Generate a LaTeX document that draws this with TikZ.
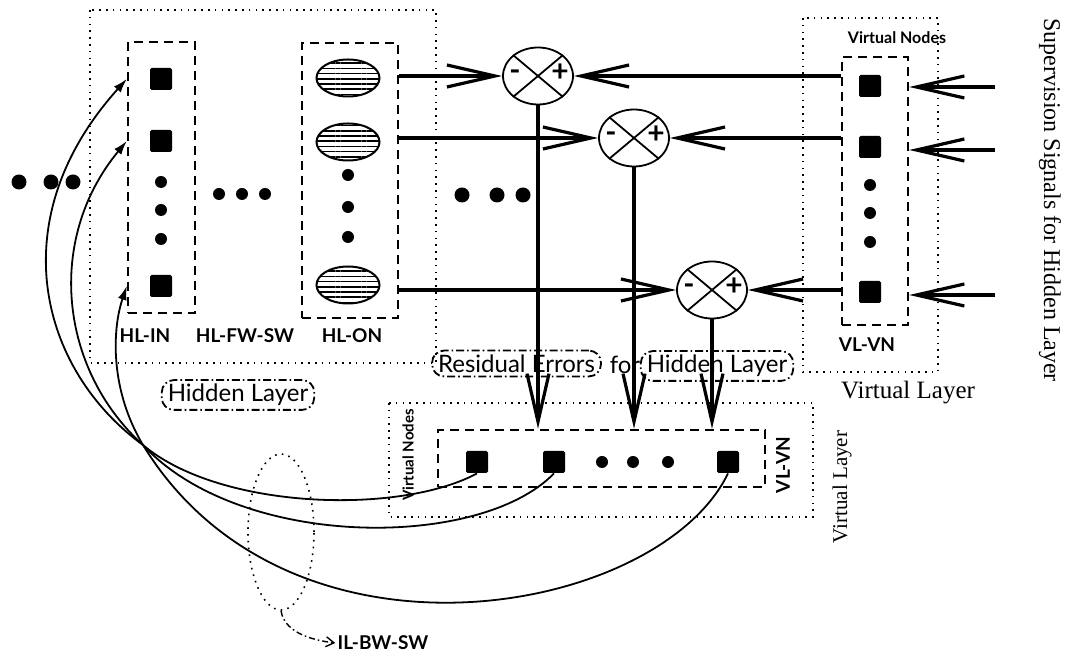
\documentclass[tikz,border=0pt]{standalone}
\usepackage{fontspec}
\setmainfont{Liberation Serif}
\newfontfamily\labelfont{Lato}
\usepackage{tikz}
\usetikzlibrary{arrows.meta,positioning,shapes.geometric,patterns.meta,calc}

\begin{document}
\begin{tikzpicture}[
  x=0.5pt, y=-0.5pt,
  nodebox/.style={draw, line width=1.2pt, dash pattern=on 4.5pt off 3pt},
  layerframe/.style={draw, line width=0.8pt, dash pattern=on 0.8pt off 2.6pt},
  tagbox/.style={draw, rounded corners=6pt, line width=0.9pt, dash pattern=on 4pt off 1.5pt on 0.8pt off 1.5pt, inner xsep=3pt, inner ysep=2pt, font=\labelfont\fontsize{12}{14}\selectfont},
  unit/.style={fill, minimum size=11pt, inner sep=0pt, rounded corners=0.8pt},
  hidunit/.style={draw, ellipse, line width=1pt, minimum width=31.5pt, minimum height=18.5pt, inner sep=0pt, pattern={Lines[angle=0,distance=2.6pt,line width=0.75pt]}},
  dot/.style={circle, fill, minimum size=6pt, inner sep=0pt},
  bigdot/.style={circle, fill, minimum size=7.5pt, inner sep=0pt},
  sumnode/.style={draw, ellipse, line width=0.9pt, minimum width=35pt, minimum height=28.5pt, inner sep=0pt},
  sign/.style={font=\labelfont\bfseries\fontsize{15}{15}\selectfont, inner sep=0pt},
  signal/.style={-{Straight Barb[length=24pt,width=11pt]}, line width=1.6pt},
  feedback/.style={-{Latex[length=7pt,width=4.5pt]}, line width=0.9pt},
  tag/.style={font=\labelfont\bfseries\fontsize{9.5}{11}\selectfont, inner sep=1pt},
]
\useasboundingbox (0,0) rectangle (1076,656);

% layer frames
\draw[layerframe] (90,10) rectangle (436,363);
\draw[layerframe] (803,18) rectangle (938,372);
\draw[layerframe] (389,403) rectangle (813,517);

% hidden layer: input and output nodes
\node[nodebox, minimum width=33.5pt, minimum height=135.5pt] (hlin) at (161.5,177.5) {};
\node[unit] (in1) at (161,79) {};
\node[unit] (in2) at (161,141) {};
\node[dot] at (161,182) {};
\node[dot] at (161,210) {};
\node[dot] at (161,239) {};
\node[unit] (in3) at (161,286) {};

\node[nodebox, minimum width=48pt, minimum height=137.5pt] (hlon) at (350,180.5) {};
\node[hidunit] (on1) at (348,78) {};
\node[hidunit] (on2) at (348,142) {};
\node[dot] at (348,175) {};
\node[dot] at (348,207) {};
\node[dot] at (348,237) {};
\node[hidunit] (on3) at (348,285) {};

\node[bigdot] at (19,182) {};
\node[bigdot] at (51,182) {};
\node[bigdot] at (73,182) {};
\node[dot] at (219,194) {};
\node[dot] at (242,194) {};
\node[dot] at (265,194) {};
\node[bigdot] at (462,195) {};
\node[bigdot] at (497,195) {};
\node[bigdot] at (523,195) {};

\node[tag] (hlinlbl) at (145,336) {HL-IN};
\node[tag] (fwlbl) at (245,336) {HL-FW-SW};
\node[tag] (hlonlbl) at (352,336) {HL-ON};
\node[tagbox] (hidtag) at (238,395) {Hidden Layer};

% comparators
\node[sumnode] (s1) at (538,76) {};
\node[sumnode] (s2) at (634,138) {};
\node[sumnode] (s3) at (712,290) {};
\foreach \s in {s1,s2,s3}{
  \draw[line width=0.9pt] (\s.40) -- (\s.220);
  \draw[line width=0.9pt] (\s.140) -- (\s.320);
  \node[sign] at ($(\s)+(-23,-1)$) {-};
  \node[sign] at ($(\s)+(22,-3)$) {+};
}

% virtual layer for the hidden layer
\node[tag, font=\labelfont\bfseries\fontsize{8}{9}\selectfont] (vntop) at (897,38) {Virtual Nodes};
\node[nodebox, minimum width=33pt, minimum height=134pt] (vn) at (875,191) {};
\node[unit] (vn1) at (870,86) {};
\node[unit] (vn2) at (870,147) {};
\node[dot] at (870,185) {};
\node[dot] at (870,213) {};
\node[dot] at (870,242) {};
\node[unit] (vn3) at (870,292) {};
\node[tag] (vnlbl) at (867,345) {VL-VN};
\node[font=\fontsize{12.5}{14}\selectfont] (vltop) at (908,393) {Virtual Layer};
\node[rotate=-90, font=\fontsize{12}{14}\selectfont] (suplbl) at (1050,200) {Supervision Signals for Hidden Layer};

\coordinate (sup1) at (995,87);
\coordinate (sup2) at (995,150);
\coordinate (sup3) at (995,295);
\draw[signal] (sup1) -- (sup1 -| vn.east);
\draw[signal] (sup2) -- (sup2 -| vn.east);
\draw[signal] (sup3) -- (sup3 -| vn.east);

\draw[signal] (s1.west -| hlon.east) -- (s1.west);
\draw[signal] (s2.west -| hlon.east) -- (s2.west);
\draw[signal] (s3.west -| hlon.east) -- (s3.west);
\draw[signal] (s1.east -| vn.west) -- (s1.east);
\draw[signal] (s2.east -| vn.west) -- (s2.east);
\draw[signal] (s3.east -| vn.west) -- (s3.east);

% residual errors
\node[tagbox] (restag) at (516.5,363.5) {Residual Errors};
\node[font=\labelfont\fontsize{12}{14}\selectfont] (fortag) at (625,365) {for};
\node[tagbox] (hid2tag) at (717,366) {Hidden Layer};

\node[nodebox, minimum width=163.5pt, minimum height=28.5pt] (vlb) at (601.5,458.5) {};
\node[unit] (b1) at (477,462) {};
\node[unit] (b2) at (554,462) {};
\node[dot] at (602,462) {};
\node[dot] at (633,462) {};
\node[dot] at (668,462) {};
\node[unit] (b3) at (728,462) {};
\node[tag, rotate=90, font=\labelfont\bfseries\fontsize{7.5}{9}\selectfont] (vnside) at (408,455) {Virtual Nodes};
\node[tag, rotate=90] (vlbside) at (783,465) {VL-VN};
\node[rotate=90, font=\fontsize{10.5}{12}\selectfont] (vlside) at (842,487) {Virtual Layer};

\draw[signal] (s1.south) -- (s1.south |- vlb.north);
\draw[signal] (s2.south) -- (s2.south |- vlb.north);
\draw[signal] (s3.south) -- (s3.south |- vlb.north);

% backward weights into the hidden layer
\coordinate (cross) at (143,445);
\coordinate (fb1) at (hlin.west |- in1);
\coordinate (fb2) at (hlin.west |- in2);
\coordinate (fb3) at (hlin.west |- in3);
\draw[feedback] (b1.south) .. controls (400,515) and (220,510) .. (cross) .. controls (40,370) and (0,220) .. (fb1);
\draw[feedback] (b2.south) .. controls (480,550) and (240,550) .. (cross) .. controls (60,370) and (45,240) .. (fb2);
\draw[feedback] (b3.south) .. controls (660,615) and (290,685) .. (cross) .. controls (110,390) and (112,330) .. (fb3);

\node[layerframe, ellipse, minimum width=33pt, minimum height=78pt] (bwsw) at (281,532) {};
\node[tag] (bwswlbl) at (383,643) {IL-BW-SW};
\draw[line width=0.7pt, dash pattern=on 3pt off 1.5pt on 0.8pt off 1.5pt, -{Straight Barb[length=4pt,width=5pt]}] (bwsw.south) .. controls +(4,25) and +(-15,-2) .. (bwswlbl.west);

\end{tikzpicture}
\end{document}
